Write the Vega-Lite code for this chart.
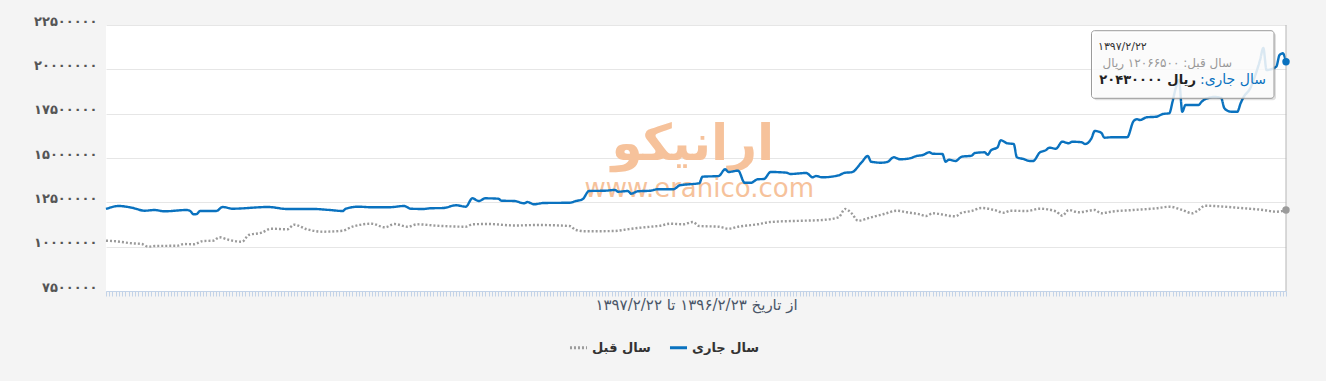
{
  "$schema": "https://vega.github.io/schema/vega-lite/v6.json",
  "width": 1180,
  "height": 266,
  "autosize": {"type": "none"},
  "padding": {"left": 106, "top": 25, "right": 40, "bottom": 90},
  "background": "#f4f4f4",
  "config": {
    "view": {"fill": "#ffffff", "stroke": null},
    "font": "DejaVu Sans",
    "legend": {
      "title": null,
      "orient": "none",
      "legendX": 462,
      "legendY": 312,
      "direction": "horizontal",
      "symbolType": "stroke",
      "symbolSize": 290,
      "symbolStrokeWidth": 3,
      "labelFontSize": 13,
      "labelFontWeight": "bold",
      "labelColor": "#333333",
      "labelFont": "DejaVu Sans",
      "columnPadding": 12,
      "labelOffset": 3,
      "padding": 0
    }
  },
  "data": {
    "values": [
      {"s": "سال جاری", "d": 0, "v": 12124000},
      {"s": "سال جاری", "d": 4, "v": 12293000},
      {"s": "سال جاری", "d": 8, "v": 12197000},
      {"s": "سال جاری", "d": 12, "v": 12028000},
      {"s": "سال جاری", "d": 15, "v": 12068000},
      {"s": "سال جاری", "d": 18, "v": 11994000},
      {"s": "سال جاری", "d": 25, "v": 12068000},
      {"s": "سال جاری", "d": 26, "v": 12011000},
      {"s": "سال جاری", "d": 27, "v": 11825000},
      {"s": "سال جاری", "d": 28, "v": 11842000},
      {"s": "سال جاری", "d": 29, "v": 12011000},
      {"s": "سال جاری", "d": 34, "v": 12011000},
      {"s": "سال جاری", "d": 36, "v": 12237000},
      {"s": "سال جاری", "d": 39, "v": 12141000},
      {"s": "سال جاری", "d": 50, "v": 12237000},
      {"s": "سال جاری", "d": 56, "v": 12124000},
      {"s": "سال جاری", "d": 64, "v": 12124000},
      {"s": "سال جاری", "d": 69, "v": 12068000},
      {"s": "سال جاری", "d": 73, "v": 12011000},
      {"s": "سال جاری", "d": 74, "v": 12141000},
      {"s": "سال جاری", "d": 78, "v": 12254000},
      {"s": "سال جاری", "d": 82, "v": 12220000},
      {"s": "سال جاری", "d": 87, "v": 12220000},
      {"s": "سال جاری", "d": 92, "v": 12293000},
      {"s": "سال جاری", "d": 94, "v": 12141000},
      {"s": "سال جاری", "d": 98, "v": 12124000},
      {"s": "سال جاری", "d": 100, "v": 12164000},
      {"s": "سال جاری", "d": 104, "v": 12180000},
      {"s": "سال جاری", "d": 108, "v": 12333000},
      {"s": "سال جاری", "d": 111, "v": 12254000},
      {"s": "سال جاری", "d": 113, "v": 12727000},
      {"s": "سال جاری", "d": 115, "v": 12575000},
      {"s": "سال جاری", "d": 117, "v": 12727000},
      {"s": "سال جاری", "d": 121, "v": 12705000},
      {"s": "سال جاری", "d": 122, "v": 12592000},
      {"s": "سال جاری", "d": 126, "v": 12575000},
      {"s": "سال جاری", "d": 129, "v": 12445000},
      {"s": "سال جاری", "d": 130, "v": 12519000},
      {"s": "سال جاری", "d": 132, "v": 12389000},
      {"s": "سال جاری", "d": 135, "v": 12462000},
      {"s": "سال جاری", "d": 143, "v": 12479000},
      {"s": "سال جاری", "d": 145, "v": 12575000},
      {"s": "سال جاری", "d": 147, "v": 12671000},
      {"s": "سال جاری", "d": 149, "v": 13139000},
      {"s": "سال جاری", "d": 154, "v": 13156000},
      {"s": "سال جاری", "d": 157, "v": 13195000},
      {"s": "سال جاری", "d": 158, "v": 13100000},
      {"s": "سال جاری", "d": 161, "v": 13139000},
      {"s": "سال جاری", "d": 162, "v": 12987000},
      {"s": "سال جاری", "d": 164, "v": 13122000},
      {"s": "سال جاری", "d": 168, "v": 13156000},
      {"s": "سال جاری", "d": 170, "v": 13235000},
      {"s": "سال جاری", "d": 175, "v": 13235000},
      {"s": "سال جاری", "d": 177, "v": 13461000},
      {"s": "سال جاری", "d": 181, "v": 13534000},
      {"s": "سال جاری", "d": 183, "v": 13573000},
      {"s": "سال جاری", "d": 184, "v": 13945000},
      {"s": "سال جاری", "d": 189, "v": 13985000},
      {"s": "سال جاری", "d": 191, "v": 14363000},
      {"s": "سال جاری", "d": 192, "v": 14211000},
      {"s": "سال جاری", "d": 195, "v": 14284000},
      {"s": "سال جاری", "d": 197, "v": 13607000},
      {"s": "سال جاری", "d": 199, "v": 13607000},
      {"s": "سال جاری", "d": 201, "v": 13799000},
      {"s": "سال جاری", "d": 203, "v": 13816000},
      {"s": "سال جاری", "d": 205, "v": 14211000},
      {"s": "سال جاری", "d": 210, "v": 14171000},
      {"s": "سال جاری", "d": 211, "v": 14098000},
      {"s": "سال جاری", "d": 216, "v": 14154000},
      {"s": "سال جاری", "d": 218, "v": 13912000},
      {"s": "سال جاری", "d": 219, "v": 13985000},
      {"s": "سال جاری", "d": 221, "v": 13912000},
      {"s": "سال جاری", "d": 226, "v": 14024000},
      {"s": "سال جاری", "d": 228, "v": 14171000},
      {"s": "سال جاری", "d": 230, "v": 14194000},
      {"s": "سال جاری", "d": 233, "v": 14735000},
      {"s": "سال جاری", "d": 235, "v": 15113000},
      {"s": "سال جاری", "d": 236, "v": 14791000},
      {"s": "سال جاری", "d": 239, "v": 14735000},
      {"s": "سال جاری", "d": 241, "v": 14774000},
      {"s": "سال جاری", "d": 243, "v": 15039000},
      {"s": "سال جاری", "d": 245, "v": 14927000},
      {"s": "سال جاری", "d": 248, "v": 14983000},
      {"s": "سال جاری", "d": 250, "v": 15113000},
      {"s": "سال جاری", "d": 252, "v": 15169000},
      {"s": "سال جاری", "d": 254, "v": 15321000},
      {"s": "سال جاری", "d": 255, "v": 15242000},
      {"s": "سال جاری", "d": 258, "v": 15226000},
      {"s": "سال جاری", "d": 259, "v": 14791000},
      {"s": "سال جاری", "d": 260, "v": 14904000},
      {"s": "سال جاری", "d": 262, "v": 14831000},
      {"s": "سال جاری", "d": 264, "v": 15073000},
      {"s": "سال جاری", "d": 267, "v": 15130000},
      {"s": "سال جاری", "d": 268, "v": 15282000},
      {"s": "سال جاری", "d": 271, "v": 15321000},
      {"s": "سال جاری", "d": 272, "v": 15186000},
      {"s": "سال جاری", "d": 273, "v": 15434000},
      {"s": "سال جاری", "d": 275, "v": 15603000},
      {"s": "سال جاری", "d": 276, "v": 15998000},
      {"s": "سال جاری", "d": 278, "v": 15829000},
      {"s": "سال جاری", "d": 280, "v": 15789000},
      {"s": "سال جاری", "d": 281, "v": 15039000},
      {"s": "سال جاری", "d": 283, "v": 14944000},
      {"s": "سال جاری", "d": 285, "v": 14831000},
      {"s": "سال جاری", "d": 286, "v": 14831000},
      {"s": "سال جاری", "d": 288, "v": 15299000},
      {"s": "سال جاری", "d": 290, "v": 15451000},
      {"s": "سال جاری", "d": 291, "v": 15581000},
      {"s": "سال جاری", "d": 293, "v": 15524000},
      {"s": "سال جاری", "d": 295, "v": 15919000},
      {"s": "سال جاری", "d": 297, "v": 15829000},
      {"s": "سال جاری", "d": 298, "v": 15919000},
      {"s": "سال جاری", "d": 301, "v": 15885000},
      {"s": "سال جاری", "d": 302, "v": 15789000},
      {"s": "سال جاری", "d": 304, "v": 16111000},
      {"s": "سال جاری", "d": 305, "v": 16523000},
      {"s": "سال جاری", "d": 307, "v": 16427000},
      {"s": "سال جاری", "d": 308, "v": 16145000},
      {"s": "سال جاری", "d": 310, "v": 16167000},
      {"s": "سال جاری", "d": 315, "v": 16167000},
      {"s": "سال جاری", "d": 317, "v": 17086000},
      {"s": "سال جاری", "d": 318, "v": 17182000},
      {"s": "سال جاری", "d": 319, "v": 17143000},
      {"s": "سال جاری", "d": 321, "v": 17295000},
      {"s": "سال جاری", "d": 324, "v": 17329000},
      {"s": "سال جاری", "d": 326, "v": 17481000},
      {"s": "سال جاری", "d": 328, "v": 17521000},
      {"s": "سال جاری", "d": 329, "v": 18175000},
      {"s": "سال جاری", "d": 330, "v": 18947000},
      {"s": "سال جاری", "d": 331, "v": 19398000},
      {"s": "سال جاری", "d": 332, "v": 17611000},
      {"s": "سال جاری", "d": 333, "v": 17989000},
      {"s": "سال جاری", "d": 337, "v": 17989000},
      {"s": "سال جاری", "d": 338, "v": 18175000},
      {"s": "سال جاری", "d": 339, "v": 18310000},
      {"s": "سال جاری", "d": 342, "v": 18440000},
      {"s": "سال جاری", "d": 344, "v": 18383000},
      {"s": "سال جاری", "d": 345, "v": 17803000},
      {"s": "سال جاری", "d": 347, "v": 17611000},
      {"s": "سال جاری", "d": 349, "v": 17611000},
      {"s": "سال جاری", "d": 350, "v": 18085000},
      {"s": "سال جاری", "d": 351, "v": 18457000},
      {"s": "سال جاری", "d": 353, "v": 18947000},
      {"s": "سال جاری", "d": 354, "v": 19398000},
      {"s": "سال جاری", "d": 356, "v": 20526000},
      {"s": "سال جاری", "d": 357, "v": 21203000},
      {"s": "سال جاری", "d": 358, "v": 19962000},
      {"s": "سال جاری", "d": 361, "v": 20148000},
      {"s": "سال جاری", "d": 362, "v": 20808000},
      {"s": "سال جاری", "d": 363, "v": 20904000},
      {"s": "سال جاری", "d": 364, "v": 20430000},
      {"s": "سال قبل", "d": 0, "v": 10336000},
      {"s": "سال قبل", "d": 3, "v": 10303000},
      {"s": "سال قبل", "d": 8, "v": 10190000},
      {"s": "سال قبل", "d": 11, "v": 10150000},
      {"s": "سال قبل", "d": 13, "v": 9998000},
      {"s": "سال قبل", "d": 15, "v": 10038000},
      {"s": "سال قبل", "d": 22, "v": 10055000},
      {"s": "سال قبل", "d": 24, "v": 10150000},
      {"s": "سال قبل", "d": 27, "v": 10133000},
      {"s": "سال قبل", "d": 30, "v": 10320000},
      {"s": "سال قبل", "d": 33, "v": 10336000},
      {"s": "سال قبل", "d": 35, "v": 10528000},
      {"s": "سال قبل", "d": 38, "v": 10376000},
      {"s": "سال قبل", "d": 42, "v": 10280000},
      {"s": "سال قبل", "d": 44, "v": 10658000},
      {"s": "سال قبل", "d": 48, "v": 10788000},
      {"s": "سال قبل", "d": 51, "v": 11013000},
      {"s": "سال قبل", "d": 56, "v": 10979000},
      {"s": "سال قبل", "d": 58, "v": 11239000},
      {"s": "سال قبل", "d": 62, "v": 10979000},
      {"s": "سال قبل", "d": 67, "v": 10844000},
      {"s": "سال قبل", "d": 73, "v": 10900000},
      {"s": "سال قبل", "d": 76, "v": 11126000},
      {"s": "سال قبل", "d": 82, "v": 11295000},
      {"s": "سال قبل", "d": 86, "v": 11092000},
      {"s": "سال قبل", "d": 89, "v": 11278000},
      {"s": "سال قبل", "d": 93, "v": 11126000},
      {"s": "سال قبل", "d": 96, "v": 11261000},
      {"s": "سال قبل", "d": 102, "v": 11182000},
      {"s": "سال قبل", "d": 111, "v": 11126000},
      {"s": "سال قبل", "d": 113, "v": 11261000},
      {"s": "سال قبل", "d": 118, "v": 11278000},
      {"s": "سال قبل", "d": 126, "v": 11194000},
      {"s": "سال قبل", "d": 133, "v": 11222000},
      {"s": "سال قبل", "d": 143, "v": 11165000},
      {"s": "سال قبل", "d": 145, "v": 10940000},
      {"s": "سال قبل", "d": 148, "v": 10867000},
      {"s": "سال قبل", "d": 157, "v": 10884000},
      {"s": "سال قبل", "d": 160, "v": 10957000},
      {"s": "سال قبل", "d": 164, "v": 11053000},
      {"s": "سال قبل", "d": 168, "v": 11126000},
      {"s": "سال قبل", "d": 171, "v": 11182000},
      {"s": "سال قبل", "d": 174, "v": 11295000},
      {"s": "سال قبل", "d": 178, "v": 11261000},
      {"s": "سال قبل", "d": 181, "v": 11391000},
      {"s": "سال قبل", "d": 183, "v": 11165000},
      {"s": "سال قبل", "d": 189, "v": 11126000},
      {"s": "سال قبل", "d": 192, "v": 11013000},
      {"s": "سال قبل", "d": 195, "v": 11126000},
      {"s": "سال قبل", "d": 201, "v": 11261000},
      {"s": "سال قبل", "d": 205, "v": 11391000},
      {"s": "سال قبل", "d": 215, "v": 11464000},
      {"s": "سال قبل", "d": 221, "v": 11504000},
      {"s": "سال قبل", "d": 226, "v": 11656000},
      {"s": "سال قبل", "d": 228, "v": 12124000},
      {"s": "سال قبل", "d": 230, "v": 11882000},
      {"s": "سال قبل", "d": 232, "v": 11464000},
      {"s": "سال قبل", "d": 236, "v": 11656000},
      {"s": "سال قبل", "d": 240, "v": 11842000},
      {"s": "سال قبل", "d": 244, "v": 12028000},
      {"s": "سال قبل", "d": 247, "v": 11938000},
      {"s": "سال قبل", "d": 251, "v": 11825000},
      {"s": "سال قبل", "d": 253, "v": 11729000},
      {"s": "سال قبل", "d": 255, "v": 11882000},
      {"s": "سال قبل", "d": 262, "v": 11712000},
      {"s": "سال قبل", "d": 264, "v": 11915000},
      {"s": "سال قبل", "d": 267, "v": 12011000},
      {"s": "سال قبل", "d": 270, "v": 12180000},
      {"s": "سال قبل", "d": 274, "v": 12068000},
      {"s": "سال قبل", "d": 277, "v": 11915000},
      {"s": "سال قبل", "d": 279, "v": 12028000},
      {"s": "سال قبل", "d": 284, "v": 12011000},
      {"s": "سال قبل", "d": 288, "v": 12141000},
      {"s": "سال قبل", "d": 293, "v": 11994000},
      {"s": "سال قبل", "d": 295, "v": 11746000},
      {"s": "سال قبل", "d": 297, "v": 12068000},
      {"s": "سال قبل", "d": 300, "v": 11938000},
      {"s": "سال قبل", "d": 305, "v": 12068000},
      {"s": "سال قبل", "d": 307, "v": 11882000},
      {"s": "سال قبل", "d": 310, "v": 11972000},
      {"s": "سال قبل", "d": 317, "v": 12068000},
      {"s": "سال قبل", "d": 324, "v": 12164000},
      {"s": "سال قبل", "d": 328, "v": 12254000},
      {"s": "سال قبل", "d": 332, "v": 12068000},
      {"s": "سال قبل", "d": 335, "v": 11882000},
      {"s": "سال قبل", "d": 337, "v": 12068000},
      {"s": "سال قبل", "d": 339, "v": 12310000},
      {"s": "سال قبل", "d": 345, "v": 12254000},
      {"s": "سال قبل", "d": 351, "v": 12164000},
      {"s": "سال قبل", "d": 357, "v": 12068000},
      {"s": "سال قبل", "d": 361, "v": 11972000},
      {"s": "سال قبل", "d": 364, "v": 12066500}
    ]
  },
  "layer": [
    {
      "data": {"values": [{}]},
      "mark": {"type": "text", "text": "ارانیکو", "fontSize": 50, "fontWeight": "bold", "fill": "#f6c29b", "align": "center", "baseline": "middle", "font": "DejaVu Sans"},
      "encoding": {
        "x": {"datum": 181, "type": "quantitative"},
        "y": {"datum": 15750000, "type": "quantitative"}
      }
    },
    {
      "data": {"values": [{}]},
      "mark": {"type": "text", "text": "www.eranico.com", "fontSize": 26, "fill": "#f6c29b", "align": "center", "baseline": "middle", "font": "DejaVu Sans"},
      "encoding": {
        "x": {"datum": 183, "type": "quantitative"},
        "y": {"datum": 13250000, "type": "quantitative"}
      }
    },
    {
      "mark": {"type": "line", "strokeWidth": 2.4, "interpolate": "monotone"},
      "encoding": {
        "x": {
          "field": "d",
          "type": "quantitative",
          "scale": {"domain": [0, 364], "nice": false, "zero": false},
          "axis": {
            "title": "از تاریخ ۱۳۹۶/۲/۲۳ تا ۱۳۹۷/۲/۲۲",
            "labels": false,
            "tickCount": 365,
            "ticks": true,
            "tickSize": 5,
            "tickColor": "#c3d3e8",
            "domainColor": "#c3d3e8",
            "grid": false,
            "titleFont": "DejaVu Sans",
            "titleFontSize": 15,
            "titleFontWeight": "normal",
            "titleColor": "#4a5668",
            "titlePadding": 1
          }
        },
        "y": {
          "field": "v",
          "type": "quantitative",
          "scale": {"domain": [7500000, 22500000], "nice": false, "zero": false},
          "axis": {
            "title": null,
            "values": [7500000, 10000000, 12500000, 15000000, 17500000, 20000000, 22500000],
            "format": "d",
            "labelExpr": "replace(replace(replace(replace(replace(replace(replace(replace(replace(replace(datum.label, regexp('0','g'), '۰'), regexp('1','g'), '۱'), regexp('2','g'), '۲'), regexp('3','g'), '۳'), regexp('4','g'), '۴'), regexp('5','g'), '۵'), regexp('6','g'), '۶'), regexp('7','g'), '۷'), regexp('8','g'), '۸'), regexp('9','g'), '۹')",
            "domain": false,
            "ticks": false,
            "grid": true,
            "gridColor": "#e6e6e6",
            "labelFont": "DejaVu Sans",
            "labelFontSize": 13,
            "labelFontWeight": "bold",
            "labelColor": "#555555",
            "labelPadding": 9,
            "labelBaseline": "alphabetic",
            "labelFlush": false
          }
        },
        "color": {
          "field": "s",
          "type": "nominal",
          "scale": {"domain": ["سال قبل", "سال جاری"], "range": ["#9b9b9b", "#0a72bf"]}
        },
        "strokeDash": {
          "field": "s",
          "type": "nominal",
          "scale": {"domain": ["سال قبل", "سال جاری"], "range": [[2, 2], [1, 0]]}
        }
      }
    },
    {
      "data": {"values": [{}]},
      "mark": {"type": "rule", "color": "#b5b5b5", "strokeWidth": 1},
      "encoding": {"x": {"datum": 364, "type": "quantitative"}}
    },
    {
      "transform": [{"filter": "datum.d == 364 && datum.s == 'سال جاری'"}],
      "mark": {"type": "point", "filled": true, "size": 55, "color": "#0a72bf", "opacity": 1},
      "encoding": {
        "x": {"field": "d", "type": "quantitative"},
        "y": {"field": "v", "type": "quantitative"}
      }
    },
    {
      "transform": [{"filter": "datum.d == 364 && datum.s == 'سال قبل'"}],
      "mark": {"type": "point", "filled": true, "size": 55, "color": "#9b9b9b", "opacity": 1},
      "encoding": {
        "x": {"field": "d", "type": "quantitative"},
        "y": {"field": "v", "type": "quantitative"}
      }
    },
    {
      "data": {"values": [{}]},
      "mark": {"type": "rect", "fill": "#000000", "opacity": 0.12, "cornerRadius": 3, "xOffset": 2, "x2Offset": 2, "yOffset": 2, "y2Offset": 2},
      "encoding": {
        "x": {"datum": 304, "type": "quantitative"},
        "x2": {"datum": 360.3},
        "y": {"datum": 22178000, "type": "quantitative"},
        "y2": {"datum": 18366500}
      }
    },
    {
      "data": {"values": [{}]},
      "mark": {"type": "rect", "fill": "#ffffff", "fillOpacity": 0.85, "stroke": "#9a9a9a", "strokeWidth": 1, "cornerRadius": 3},
      "encoding": {
        "x": {"datum": 304, "type": "quantitative"},
        "x2": {"datum": 360.3},
        "y": {"datum": 22178000, "type": "quantitative"},
        "y2": {"datum": 18366500}
      }
    },
    {
      "data": {"values": [{}]},
      "mark": {"type": "text", "text": "۱۳۹۷/۲/۲۲", "fontSize": 11, "fill": "#333333", "align": "left", "baseline": "middle", "font": "DejaVu Sans"},
      "encoding": {
        "x": {"datum": 306, "type": "quantitative"},
        "y": {"datum": 21242000, "type": "quantitative"}
      }
    },
    {
      "data": {"values": [{}]},
      "mark": {"type": "text", "text": "سال قبل: ۱۲۰۶۶۵۰۰ ریال", "fontSize": 12, "fill": "#999999", "align": "left", "baseline": "middle", "font": "DejaVu Sans"},
      "encoding": {
        "x": {"datum": 307.4, "type": "quantitative"},
        "y": {"datum": 20340000, "type": "quantitative"}
      }
    },
    {
      "data": {"values": [{}]},
      "mark": {"type": "text", "text": "سال جاری:‏", "fontSize": 14, "fill": "#0a72bf", "align": "right", "baseline": "middle", "font": "DejaVu Sans"},
      "encoding": {
        "x": {"datum": 357.8, "type": "quantitative"},
        "y": {"datum": 19398000, "type": "quantitative"}
      }
    },
    {
      "data": {"values": [{}]},
      "mark": {"type": "text", "text": "۲۰۴۳۰۰۰۰ ریال", "fontSize": 13, "fontWeight": "bold", "fill": "#222222", "align": "right", "baseline": "middle", "font": "DejaVu Sans"},
      "encoding": {
        "x": {"datum": 336.2, "type": "quantitative"},
        "y": {"datum": 19398000, "type": "quantitative"}
      }
    }
  ]
}
